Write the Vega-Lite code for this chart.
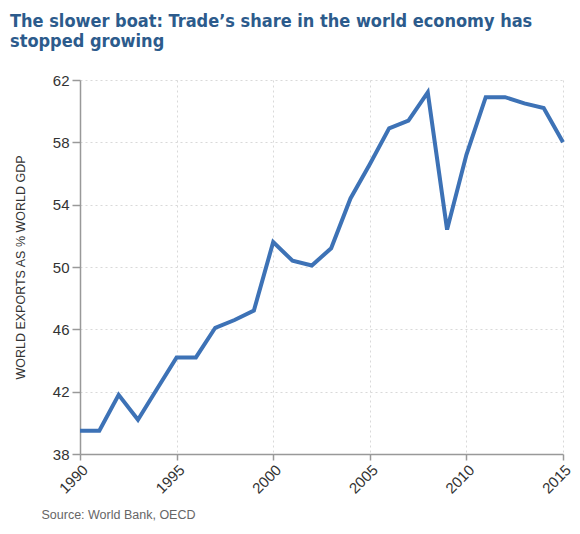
{
  "$schema": "https://vega.github.io/schema/vega-lite/v6.json",
  "autosize": {"type": "none"},
  "width": 483,
  "height": 374,
  "padding": {"left": 80, "top": 80, "right": 17, "bottom": 80},
  "background": "white",
  "title": {
    "text": ["The slower boat: Trade’s share in the world economy has", "stopped growing"],
    "anchor": "start",
    "frame": "group",
    "font": "DejaVu Sans Condensed",
    "fontSize": 18,
    "fontWeight": "bold",
    "color": "#2c5b8c",
    "lineHeight": 20,
    "dx": -70,
    "offset": 22
  },
  "config": {
    "view": {"stroke": null},
    "axis": {
      "labelFont": "Liberation Sans",
      "labelFontSize": 15,
      "labelColor": "#333333",
      "titleFont": "Liberation Sans",
      "titleFontWeight": "normal",
      "titleColor": "#333333",
      "domainColor": "#999999",
      "domainWidth": 1.5,
      "tickColor": "#999999",
      "tickWidth": 1.5,
      "gridColor": "#d9d9d9",
      "gridDash": [2, 3],
      "gridWidth": 1
    }
  },
  "data": {
    "values": [
      {"year": 1990, "share": 39.5},
      {"year": 1991, "share": 39.5},
      {"year": 1992, "share": 41.8},
      {"year": 1993, "share": 40.2},
      {"year": 1994, "share": 42.2},
      {"year": 1995, "share": 44.2},
      {"year": 1996, "share": 44.2},
      {"year": 1997, "share": 46.1},
      {"year": 1998, "share": 46.6},
      {"year": 1999, "share": 47.2},
      {"year": 2000, "share": 51.6},
      {"year": 2001, "share": 50.4},
      {"year": 2002, "share": 50.1},
      {"year": 2003, "share": 51.2},
      {"year": 2004, "share": 54.4},
      {"year": 2005, "share": 56.6},
      {"year": 2006, "share": 58.9},
      {"year": 2007, "share": 59.4},
      {"year": 2008, "share": 61.2},
      {"year": 2009, "share": 52.4},
      {"year": 2010, "share": 57.2},
      {"year": 2011, "share": 60.9},
      {"year": 2012, "share": 60.9},
      {"year": 2013, "share": 60.5},
      {"year": 2014, "share": 60.2},
      {"year": 2015, "share": 58.0}
    ]
  },
  "mark": {"type": "line", "color": "#3d72b6", "strokeWidth": 4, "strokeJoin": "miter"},
  "encoding": {
    "x": {
      "field": "year",
      "type": "quantitative",
      "scale": {"domain": [1990, 2015], "nice": false, "zero": false},
      "axis": {
        "values": [1990, 1995, 2000, 2005, 2010, 2015],
        "format": "d",
        "labelAngle": -45,
        "labelAlign": "right",
        "labelBaseline": "top",
        "labelPadding": 2,
        "tickSize": 6,
        "grid": true,
        "title": "Source: World Bank, OECD",
        "titleFontSize": 12.5,
        "titleColor": "#666666",
        "titleAnchor": "start",
        "titleAlign": "left",
        "titleBaseline": "alphabetic",
        "titleX": -39,
        "titleY": 64
      }
    },
    "y": {
      "field": "share",
      "type": "quantitative",
      "scale": {"domain": [38, 62], "nice": false, "zero": false},
      "axis": {
        "values": [38, 42, 46, 50, 54, 58, 62],
        "tickSize": 8,
        "labelPadding": 3,
        "grid": true,
        "title": "WORLD EXPORTS AS % WORLD GDP",
        "titleFontSize": 12.5,
        "titleAngle": -90,
        "titleAlign": "center",
        "titleBaseline": "middle",
        "titleX": -60,
        "titleY": 187
      }
    }
  }
}
